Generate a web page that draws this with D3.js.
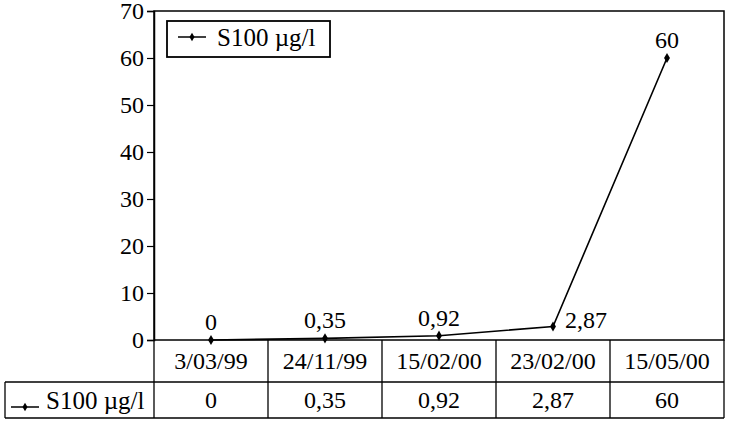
<!DOCTYPE html>
<html>
<head>
<meta charset="utf-8">
<script src="https://cdn.jsdelivr.net/npm/d3@7"></script>
<style>
  html, body { margin: 0; padding: 0; background: #fff; }
</style>
</head>
<body>
<svg id="chart" width="730" height="423"></svg>
<script>
// S100 series
const dates = ['3/03/99', '24/11/99', '15/02/00', '23/02/00', '15/05/00'];
const s100 = [0, 0.35, 0.92, 2.87, 60];
const s100Labels = ['0', '0,35', '0,92', '2,87', '60'];
const yTicks = [0, 10, 20, 30, 40, 50, 60, 70];
const seriesName = 'S100 µg/l';

(function () {
const families = ['Liberation Serif'];
const svg = d3.select('#chart');
const plotL = 154, plotR = 724, plotT = 11, axisY = 340;
const rowMid = 382, rowBot = 418, tableLeft = 5;
const fs = 24;

const x = d3.scaleBand().domain(dates).range([plotL, plotR]);
const y = d3.scaleLinear().domain([0, 70]).range([axisY, plotT]);

const txt = (sel, size) => sel
  .style('font-family', () => `'${families[0]}'`)
  .attr('font-size', size || fs).attr('fill', '#000');

// plot frame
svg.append('rect')
  .attr('x', plotL).attr('y', plotT)
  .attr('width', plotR - plotL).attr('height', axisY - plotT)
  .attr('fill', 'none').attr('stroke', '#000').attr('stroke-width', 1.5);

// y axis
const yAxis = svg.append('g')
  .attr('transform', `translate(${plotL},0)`)
  .call(d3.axisLeft(y).tickValues(yTicks).tickSize(7).tickPadding(3));
yAxis.attr('font-size', fs);
yAxis.select('.domain').attr('stroke-width', 1.5);
yAxis.selectAll('line').attr('stroke-width', 1.2);
yAxis.selectAll('text').call(txt).attr('dy', '0.33em');

// data table
const tbl = svg.append('g').attr('fill', 'none').attr('stroke', '#000').attr('stroke-width', 1.3);
tbl.append('line').attr('x1', plotL).attr('x2', plotL).attr('y1', axisY).attr('y2', rowBot);
tbl.append('line').attr('x1', plotR).attr('x2', plotR).attr('y1', axisY).attr('y2', rowBot);
tbl.append('line').attr('x1', tableLeft).attr('x2', plotR).attr('y1', rowMid).attr('y2', rowMid);
tbl.append('line').attr('x1', tableLeft).attr('x2', plotR).attr('y1', rowBot).attr('y2', rowBot);
tbl.append('line').attr('x1', tableLeft).attr('x2', tableLeft).attr('y1', rowMid).attr('y2', rowBot);
dates.slice(1).forEach(d => {
  tbl.append('line').attr('x1', x(d)).attr('x2', x(d)).attr('y1', axisY).attr('y2', rowBot);
});

svg.append('g').selectAll('text').data(dates).join('text')
  .attr('x', d => x(d) + x.bandwidth() / 2)
  .attr('y', (axisY + rowMid) / 2 + 8)
  .attr('text-anchor', 'middle').call(txt)
  .text(d => d);

svg.append('g').selectAll('text').data(s100Labels).join('text')
  .attr('x', (d, i) => x(dates[i]) + x.bandwidth() / 2)
  .attr('y', (rowMid + rowBot) / 2 + 8)
  .attr('text-anchor', 'middle').call(txt)
  .text(d => d);

// legend key: short line with a diamond
function marker(g, cx, cy, w) {
  g.append('line').attr('x1', cx - w / 2).attr('x2', cx + w / 2).attr('y1', cy).attr('y2', cy)
    .attr('stroke', '#000').attr('stroke-width', 1.5);
  g.append('path').attr('d', d3.symbol(d3.symbolDiamond, 22)())
    .attr('transform', `translate(${cx},${cy})`).attr('fill', '#000');
}
const rowKey = svg.append('g');
marker(rowKey, 25, 407, 28);
rowKey.append('text').attr('x', 46).attr('y', 409)
  .call(txt, 25).text(seriesName);

// line + points
const pts = dates.map((d, i) => [x(d) + x.bandwidth() / 2, y(s100[i])]);
svg.append('path')
  .attr('d', d3.line()(pts))
  .attr('fill', 'none').attr('stroke', '#000').attr('stroke-width', 1.6);
svg.append('g').selectAll('path').data(pts).join('path')
  .attr('d', d3.symbol(d3.symbolDiamond, 30)())
  .attr('transform', d => `translate(${d[0]},${d[1]})`)
  .attr('fill', '#000');

// value labels
svg.append('g').selectAll('text').data(pts).join('text')
  .attr('x', (d, i) => i === 3 ? d[0] + 12 : d[0])
  .attr('y', (d, i) => i === 3 ? d[1] + 1 : d[1] - 10)
  .attr('text-anchor', (d, i) => i === 3 ? 'start' : 'middle')
  .call(txt)
  .text((d, i) => s100Labels[i]);

// legend box
const leg = svg.append('g');
leg.append('rect').attr('x', 167).attr('y', 21).attr('width', 163).attr('height', 36)
  .attr('fill', '#fff').attr('stroke', '#000').attr('stroke-width', 1.8);
marker(leg, 192, 37, 28);
leg.append('text').attr('x', 217).attr('y', 46).call(txt, 25).text(seriesName);
})();
</script>
</body>
</html>
